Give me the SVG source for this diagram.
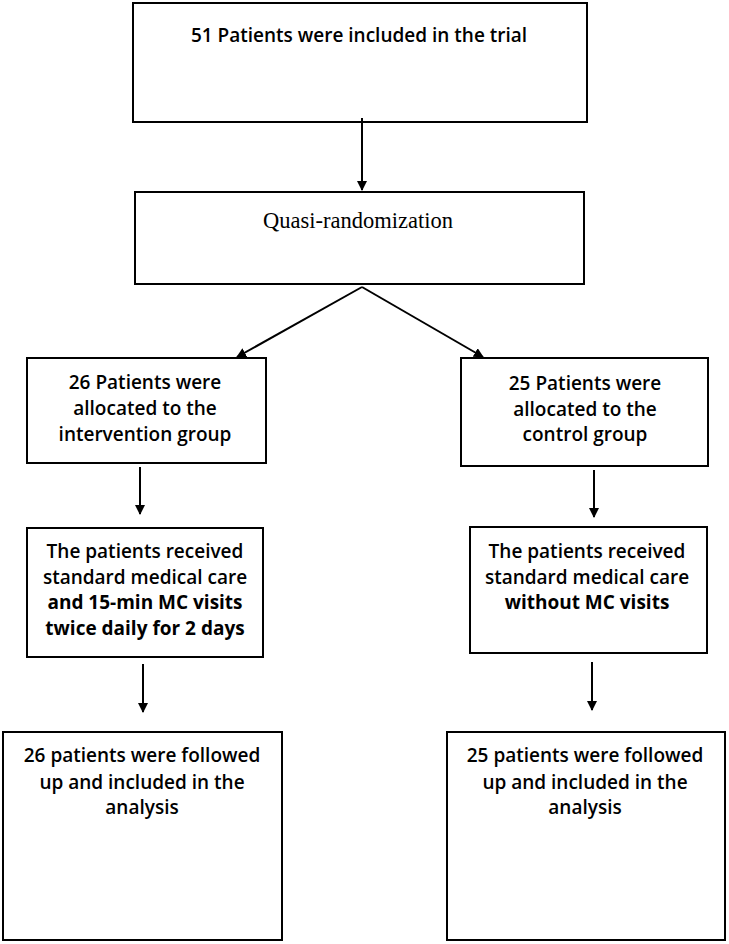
<svg xmlns="http://www.w3.org/2000/svg" width="729" height="944" viewBox="0 0 729 944">
<style>
rect{fill:#fff;stroke:#000;stroke-width:2}
text{font-family:"Open Sans","Liberation Sans",sans-serif;font-size:19px;font-weight:600;text-anchor:middle;fill:#000}
.b{font-weight:700}
.s{font-family:"Liberation Serif",serif;font-size:22.5px;font-weight:400}
line{stroke:#000;stroke-width:2;marker-end:url(#a)}
</style>
<defs><marker id="a" markerWidth="10" markerHeight="10" refX="9" refY="5" orient="auto" markerUnits="userSpaceOnUse"><path d="M0,0L10,5L0,10z" fill="#000"/></marker></defs>
<rect width="729" height="944" style="stroke:none"/>
<g id="n1"><rect x="133" y="3" width="454" height="119"/><text x="359" y="42">51 Patients were included in the trial</text></g>
<g id="n2"><rect x="135" y="192" width="449" height="92"/><text class="s" x="358" y="228">Quasi-randomization</text></g>
<g id="n3"><rect x="27" y="358" width="239" height="105"/><text x="145" y="389">26 Patients were</text><text x="145" y="415">allocated to the</text><text x="145" y="441">intervention group</text></g>
<g id="n4"><rect x="461" y="358" width="247" height="108"/><text x="585" y="390">25 Patients were</text><text x="585" y="416">allocated to the</text><text x="585" y="441">control group</text></g>
<g id="n5"><rect x="27" y="528" width="236" height="129"/><text x="145" y="558">The patients received</text><text x="145" y="584">standard medical care</text><text class="b" x="145" y="609">and 15-min MC visits</text><text class="b" x="145" y="635">twice daily for 2 days</text></g>
<g id="n6"><rect x="470" y="527" width="237" height="126"/><text x="587" y="558">The patients received</text><text x="587" y="584">standard medical care</text><text class="b" x="587" y="609">without MC visits</text></g>
<g id="n7"><rect x="3" y="732" width="279" height="208"/><text x="142" y="762">26 patients were followed</text><text x="142" y="789">up and included in the</text><text x="142" y="814">analysis</text></g>
<g id="n8"><rect x="447" y="732" width="278" height="208"/><text x="585" y="762">25 patients were followed</text><text x="585" y="789">up and included in the</text><text x="585" y="814">analysis</text></g>
<g id="edges">
<line x1="362" y1="118" x2="362" y2="190"/>
<line x1="362" y1="287" x2="237" y2="357"/>
<line x1="362" y1="287" x2="483" y2="357"/>
<line x1="140" y1="467" x2="140" y2="514"/>
<line x1="594" y1="470" x2="594" y2="517"/>
<line x1="143" y1="664" x2="143" y2="712"/>
<line x1="592" y1="662" x2="592" y2="710"/>
</g>
</svg>
